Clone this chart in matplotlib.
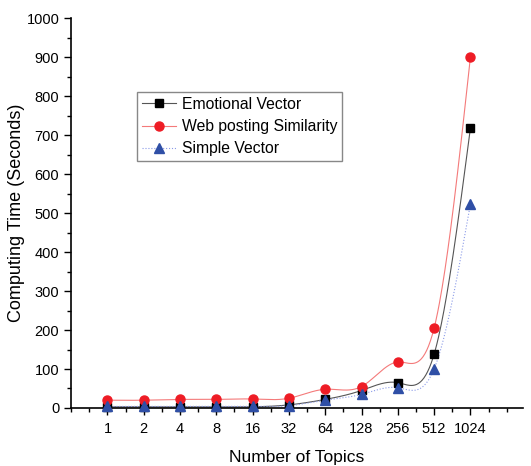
import numpy as np
import matplotlib.pyplot as plt
from matplotlib.ticker import MultipleLocator

plt.rcParams['font.family'] = ['Liberation Sans', 'DejaVu Sans']

topics = ["1", "2", "4", "8", "16", "32", "64", "128", "256", "512", "1024"]
emotional = [3, 3, 3, 3, 3, 8, 22, 45, 65, 138, 718]
web_posting = [20, 20, 22, 22, 23, 25, 48, 55, 118, 205, 900]
simple = [4, 4, 4, 4, 4, 6, 20, 35, 52, 100, 523]


def natural_spline(x, y, n=400):
    # plain natural cubic spline, like Origin's "spline" connect
    x = np.asarray(x, float)
    y = np.asarray(y, float)
    k = len(x)
    h = np.diff(x)
    A = np.zeros((k, k))
    b = np.zeros(k)
    A[0, 0] = A[-1, -1] = 1
    for i in range(1, k - 1):
        A[i, i - 1] = h[i - 1]
        A[i, i] = 2 * (h[i - 1] + h[i])
        A[i, i + 1] = h[i]
        b[i] = 3 * ((y[i + 1] - y[i]) / h[i] - (y[i] - y[i - 1]) / h[i - 1])
    c = np.linalg.solve(A, b)
    xs = np.linspace(x[0], x[-1], n)
    idx = np.clip(np.searchsorted(x, xs) - 1, 0, k - 2)
    dx = xs - x[idx]
    bb = (y[idx + 1] - y[idx]) / h[idx] - h[idx] * (2 * c[idx] + c[idx + 1]) / 3
    dd = (c[idx + 1] - c[idx]) / (3 * h[idx])
    ys = y[idx] + bb * dx + c[idx] * dx**2 + dd * dx**3
    return xs, ys


pos = np.arange(len(topics))

fig = plt.figure(figsize=(5.31, 4.66), dpi=100)
ax = fig.add_axes([0.134, 0.1245, 0.851, 0.8365])

series = [
    (emotional, "Emotional Vector", "#555555", "-", "s", "black", 5.5),
    (web_posting, "Web posting Similarity", "#f47a7a", "-", "o", "#ee1c25", 6.5),
    (simple, "Simple Vector", "#8a9ae8", ":", "^", "#2f4fa6", 6.5),
]
handles = []
for vals, label, lc, ls, mk, mc, ms in series:
    xs, ys = natural_spline(pos, vals)
    ax.plot(xs, ys, color=lc, ls=ls, lw=0.8, clip_on=False)
    ax.plot(pos, vals, ls="none", marker=mk, color=mc, ms=ms, clip_on=False, zorder=3)
    h, = ax.plot([], [], color=lc, ls=ls, lw=0.8, marker=mk, mfc=mc, mec=mc, ms=ms)
    handles.append((h, label))

ax.set_xlim(-1, 11.45)
ax.set_ylim(0, 1000)
ax.set_xticks(pos)
ax.set_xticklabels(topics)
ax.xaxis.set_minor_locator(MultipleLocator(0.5))
ax.yaxis.set_major_locator(MultipleLocator(100))
ax.yaxis.set_minor_locator(MultipleLocator(50))
ax.tick_params(axis="both", which="major", length=5, width=1, labelsize=10.5, direction="out")
ax.tick_params(axis="both", which="minor", length=3, width=1, direction="out")
ax.tick_params(axis="x", pad=5)

for s in ["top", "right"]:
    ax.spines[s].set_visible(False)
for s in ["left", "bottom"]:
    ax.spines[s].set_linewidth(1.2)

ax.set_xlabel("Number of Topics", fontsize=12.5, labelpad=10)
ax.set_ylabel("Computing Time (Seconds)", fontsize=13, labelpad=1)

leg = ax.legend([h for h, _ in handles], [l for _, l in handles],
                loc="upper left", bbox_to_anchor=(0.146, 0.81), borderaxespad=0,
                fancybox=False, edgecolor="#888888", fontsize=11.3,
                handlelength=2.2, handletextpad=0.35, labelspacing=0.45,
                borderpad=0.3, framealpha=1)
leg.get_frame().set_linewidth(1.0)

fig.savefig("out.png", dpi=100)
